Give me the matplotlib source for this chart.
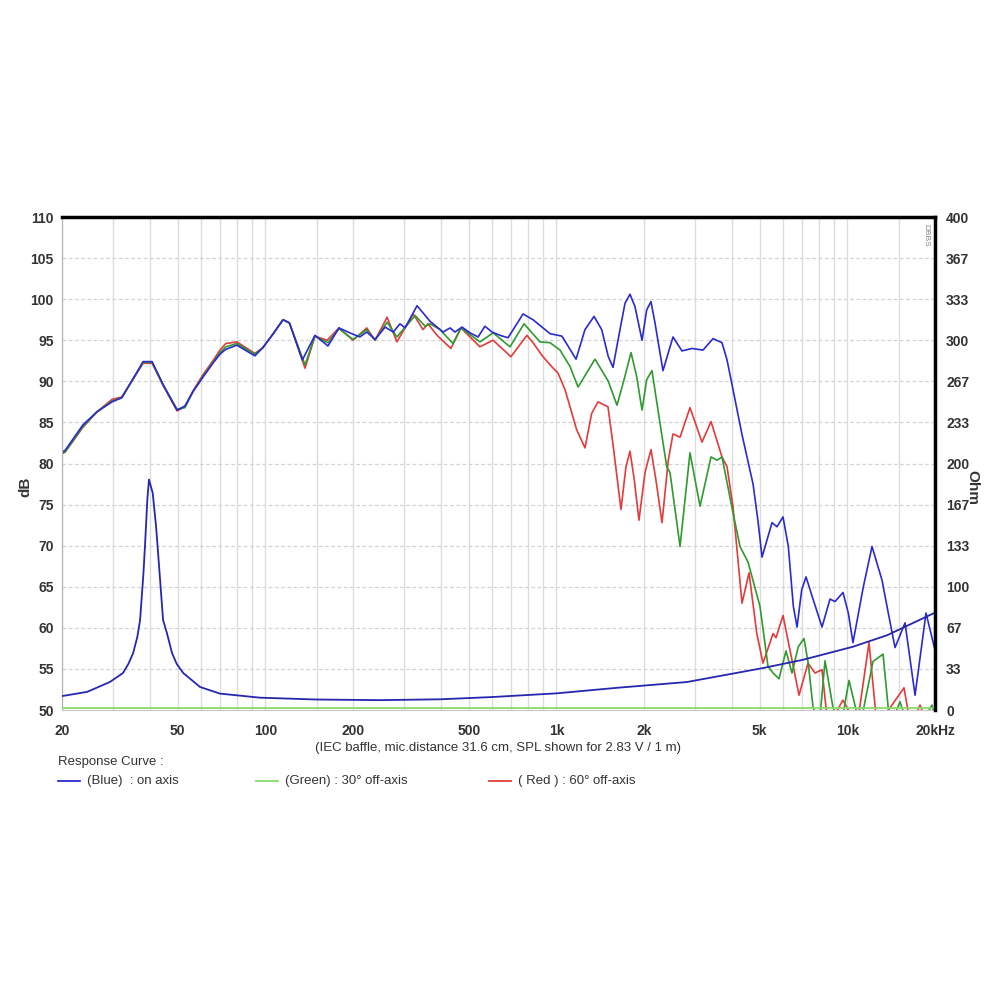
import numpy as np
import matplotlib
matplotlib.use("Agg")
import matplotlib.pyplot as plt

plt.rcParams['font.family'] = ['Liberation Sans', 'DejaVu Sans']

# on axis (blue)
blue_f = [20, 20.5, 23.6, 26.4, 29.7, 32.1, 38.0, 40.8, 44.5, 49.7,
          52.9, 56.5, 61, 66, 69.8, 73.1, 79.8, 92, 98, 106.4,
          115, 121, 134, 148, 164, 179, 195, 211, 223, 238,
          258, 275, 290, 302, 332, 368, 408, 431, 448, 474,
          505, 538, 568, 601, 640, 682, 768, 831, 951, 1045,
          1168, 1254, 1347, 1431, 1508, 1565, 1654, 1721, 1790, 1862,
          1969, 2043, 2114, 2182, 2324, 2516, 2701, 2924, 3190, 3454,
          3707, 3858, 4045, 4344, 4740, 4930, 5089, 5508, 5728, 6008,
          6266, 6520, 6714, 6964, 7208, 7634, 8180, 8714, 9068, 9658,
          10072, 10452, 11346, 12152, 13150, 13820, 14578, 15776, 17078, 18628,
          20000]
blue_db = [81.4, 81.6, 84.7, 86.3, 87.5, 88.0, 92.4, 92.4, 89.6, 86.5,
           87.0, 88.8, 90.5, 92.2, 93.3, 93.9, 94.4, 93.1, 94.1, 95.8,
           97.5, 97.1, 92.6, 95.6, 94.3, 96.5, 95.9, 95.4, 96.0, 95.1,
           96.6, 96.0, 97.0, 96.5, 99.2, 97.3, 96.0, 96.5, 96.0, 96.6,
           95.9, 95.4, 96.7, 96.0, 95.6, 95.3, 98.2, 97.5, 95.8, 95.5,
           92.7, 96.3, 97.9, 96.3, 93.0, 91.7, 96.3, 99.5, 100.6, 99.1,
           95.0, 98.7, 99.7, 97.1, 91.3, 95.4, 93.7, 94.0, 93.8, 95.2,
           94.7, 92.6, 89.0, 83.5, 77.5, 73.0, 68.6, 72.8, 72.3, 73.5,
           69.9, 62.6, 60.1, 64.6, 66.2, 63.4, 60.1, 63.5, 63.2, 64.3,
           61.8, 58.2, 65.0, 69.9, 65.8, 61.8, 57.6, 60.6, 51.8, 61.8,
           57.3]

# 30 deg off axis (green)
green_f = [20, 20.5, 23.6, 26.4, 29.7, 32.1, 38.0, 40.8, 44.5, 49.7,
           52.9, 56.5, 61, 66, 69.8, 73.1, 79.8, 92, 98, 106.4,
           115, 121, 136.8, 148, 164, 179, 200, 223, 238, 262,
           283, 327, 354, 368, 398, 441, 470, 546, 606, 693,
           774, 878, 951, 1029, 1114, 1187, 1357, 1508, 1615, 1708,
           1805, 1887, 1969, 2043, 2130, 2241, 2394, 2457, 2660, 2878,
           3116, 3399, 3564, 3707, 4045, 4276, 4556, 5008, 5336, 5553,
           5820, 6152, 6452, 6780, 7092, 7336, 7616, 8000, 8376, 8922,
           9500, 10128, 11050, 12246, 13256, 14012, 15160, 16000, 17764, 19530,
           20000]
green_db = [81.2, 81.4, 84.5, 86.3, 87.6, 88.0, 92.3, 92.3, 89.6, 86.6,
            86.8, 88.8, 90.6, 92.3, 93.5, 94.2, 94.6, 93.3, 94.1, 95.8,
            97.5, 97.1, 92.0, 95.5, 94.7, 96.4, 95.1, 96.3, 95.0, 97.2,
            95.4, 98.0, 96.7, 97.0, 96.3, 94.6, 96.5, 94.8, 95.9, 94.2,
            97.0, 94.8, 94.7, 93.8, 91.8, 89.3, 92.7, 90.0, 87.1, 90.2,
            93.5, 90.6, 86.5, 90.2, 91.3, 86.2, 79.6, 78.9, 69.9, 81.3,
            74.8, 80.8, 80.4, 80.8, 74.0, 69.9, 68.0, 62.6, 55.3, 54.5,
            53.8, 57.2, 54.5, 57.7, 58.7, 55.7, 50.4, 48.0, 56.0, 50.3,
            48.0, 53.6, 48.0, 55.9, 56.8, 48.0, 51.0, 48.5, 48.0, 50.6,
            49.0]

# 60 deg off axis (red)
red_f = [20, 20.5, 23.6, 26.4, 29.7, 32.1, 38.0, 40.8, 44.5, 49.7,
         52.9, 56.5, 61, 66, 69.8, 73.1, 79.8, 92, 98, 106.4,
         115, 121, 136.8, 148, 163, 179, 200, 223, 238, 262,
         283, 322, 348, 362, 389, 434, 470, 546, 606, 698,
         792, 831, 899, 963, 1013, 1070, 1114, 1174, 1254, 1322,
         1390, 1504, 1568, 1667, 1734, 1790, 1852, 1922, 2016, 2114,
         2198, 2306, 2424, 2516, 2660, 2878, 3165, 3399, 3707, 3858,
         4045, 4344, 4592, 4878, 5128, 5553, 5684, 6008, 6820, 7322,
         7738, 8180, 8577, 9658, 10790, 11866, 12642, 15650, 16500, 17764,
         19000, 20000]
red_db = [81.2, 81.4, 84.4, 86.3, 87.8, 88.1, 92.2, 92.2, 89.5, 86.4,
          86.9, 88.9, 90.8, 92.5, 93.8, 94.6, 94.8, 93.4, 94.1, 95.8,
          97.5, 97.1, 91.6, 95.5, 95.0, 96.5, 95.0, 96.5, 95.0, 97.8,
          94.8, 98.2, 96.3, 97.0, 95.6, 94.0, 96.5, 94.2, 95.0, 93.0,
          95.6, 94.7, 93.0, 91.8, 91.0, 89.0, 86.9, 84.1, 81.9, 86.1,
          87.5, 86.9, 82.1, 74.4, 79.6, 81.5, 78.0, 73.1, 78.9, 81.7,
          78.0, 72.8, 80.4, 83.6, 83.2, 86.8, 82.6, 85.1, 80.8, 79.6,
          74.7, 63.0, 66.7, 59.4, 55.7, 59.3, 58.8, 61.5, 51.8, 55.7,
          54.5, 54.9, 48.0, 51.2, 48.0, 58.2, 48.0, 52.7, 48.0, 50.6,
          48.0, 48.0]

# impedance (Ohm)
imp_f = [20, 24.4, 29.2, 32.4, 33.8, 35.1, 36.3, 37.1, 38.1, 38.6,
         39.3, 39.8, 41.0, 42.1, 43.2, 44.5, 45.8, 47.8, 49.6, 52.2,
         59.6, 69.8, 95.8, 150, 250, 400, 600, 1000, 1614, 2810,
         5120, 7020, 10440, 13700, 20000]
imp_ohm = [11.3, 14.7, 22.7, 30, 37.3, 46, 59.3, 73, 111, 135,
           171, 187, 176, 149, 114, 73, 63, 46, 37.3, 30,
           18.7, 13.3, 10, 8.5, 8, 8.7, 10.5, 13.5, 18, 22.7,
           34, 40.7, 51.3, 60.7, 79]
flat_f = [20, 20000]
flat_ohm = [1.5, 1.5]

xtick_vals = [20, 50, 100, 200, 500, 1000, 2000, 5000, 10000, 20000]
xtick_labels = ['20', '50', '100', '200', '500', '1k', '2k', '5k', '10k', '20kHz']
xgrid_vals = [30, 40, 60, 70, 80, 90, 150, 300, 400, 600, 700, 800, 900,
              3000, 4000, 6000, 7000, 8000, 9000, 15000]
ohm_labels = ['0', '33', '67', '100', '133', '167', '200', '233', '267', '300', '333', '367', '400']

fig = plt.figure(figsize=(10, 10), dpi=100)
ax = fig.add_axes([0.062, 0.29, 0.873, 0.493])

ax.set_xscale('log')
ax.set_xlim(20, 20000)
ax.set_ylim(50, 110)
ax.set_xticks(xtick_vals)
ax.set_xticklabels(xtick_labels, fontsize=10, fontweight='bold', color='#333333')
ax.set_xticks(xgrid_vals, minor=True)
ax.xaxis.set_minor_formatter(plt.NullFormatter())
ax.set_yticks(np.arange(50, 111, 5))
ax.tick_params(axis='y', labelsize=10, length=0, pad=6, labelcolor='#333333')
ax.tick_params(axis='x', which='both', length=0, pad=10)
for lbl in ax.get_yticklabels():
    lbl.set_fontweight('bold')

ax.grid(True, axis='x', which='both', color='#dcdcdc', lw=1)
ax.grid(True, axis='y', color='#d4d4d4', lw=0.9, ls=(0, (3, 2)))
ax.set_axisbelow(True)

ax.plot(red_f, red_db, color='#e23b3b', lw=1.2)
ax.plot(green_f, green_db, color='#2f9a2f', lw=1.2)
ax.plot(blue_f, blue_db, color='#2a2ad0', lw=1.2)

ax.spines['top'].set_linewidth(2.5)
ax.spines['top'].set_color('black')
ax.spines['right'].set_visible(False)
ax.spines['left'].set_color('#b0b0b0')
ax.spines['bottom'].set_color('#c8c8c8')

ax2 = ax.twinx()
ax2.set_ylim(0, 400)
ax2.set_yticks(np.linspace(0, 400, 13))
ax2.set_yticklabels(ohm_labels, fontsize=10, fontweight='bold', color='#333333')
ax2.tick_params(axis='y', length=0, pad=8)
ax2.spines['right'].set_linewidth(2.5)
ax2.spines['right'].set_color('black')
ax2.spines['top'].set_visible(False)
ax2.spines['left'].set_visible(False)
ax2.spines['bottom'].set_visible(False)
ax2.plot(flat_f, flat_ohm, color='#8ada6a', lw=1.3)
ax2.plot(imp_f, imp_ohm, color='#2626b0', lw=1.3)

fig.text(0.025, 0.513, 'dB', rotation=90, fontsize=11, fontweight='bold', color='#333333',
         ha='center', va='center')
fig.text(0.972, 0.513, 'Ohm', rotation=270, fontsize=11, fontweight='bold', color='#333333',
         ha='center', va='center')

ax.text(0.993, 0.985, 'DBBS', transform=ax.transAxes, rotation=270, fontsize=6,
        color='#888888', ha='right', va='top')

fig.text(0.498, 0.252, '(IEC baffle, mic.distance 31.6 cm, SPL shown for 2.83 V / 1 m)',
         fontsize=9.5, color='#333333', ha='center', va='center')
fig.text(0.058, 0.238, 'Response Curve :', fontsize=9.5, color='#333333', ha='left', va='center')

legend_items = [(0.058, '#2a2ad0', '(Blue)  : on axis'),
                (0.256, '#8ada6a', '(Green) : 30\u00b0 off-axis'),
                (0.489, '#e23b3b', '( Red ) : 60\u00b0 off-axis')]
for x0, col, txt in legend_items:
    fig.add_artist(plt.Line2D([x0, x0 + 0.022], [0.219, 0.219], color=col, lw=1.3))
    fig.text(x0 + 0.029, 0.219, txt, fontsize=9.5, color='#333333', ha='left', va='center')

fig.savefig('out.png', dpi=100, facecolor='white')
